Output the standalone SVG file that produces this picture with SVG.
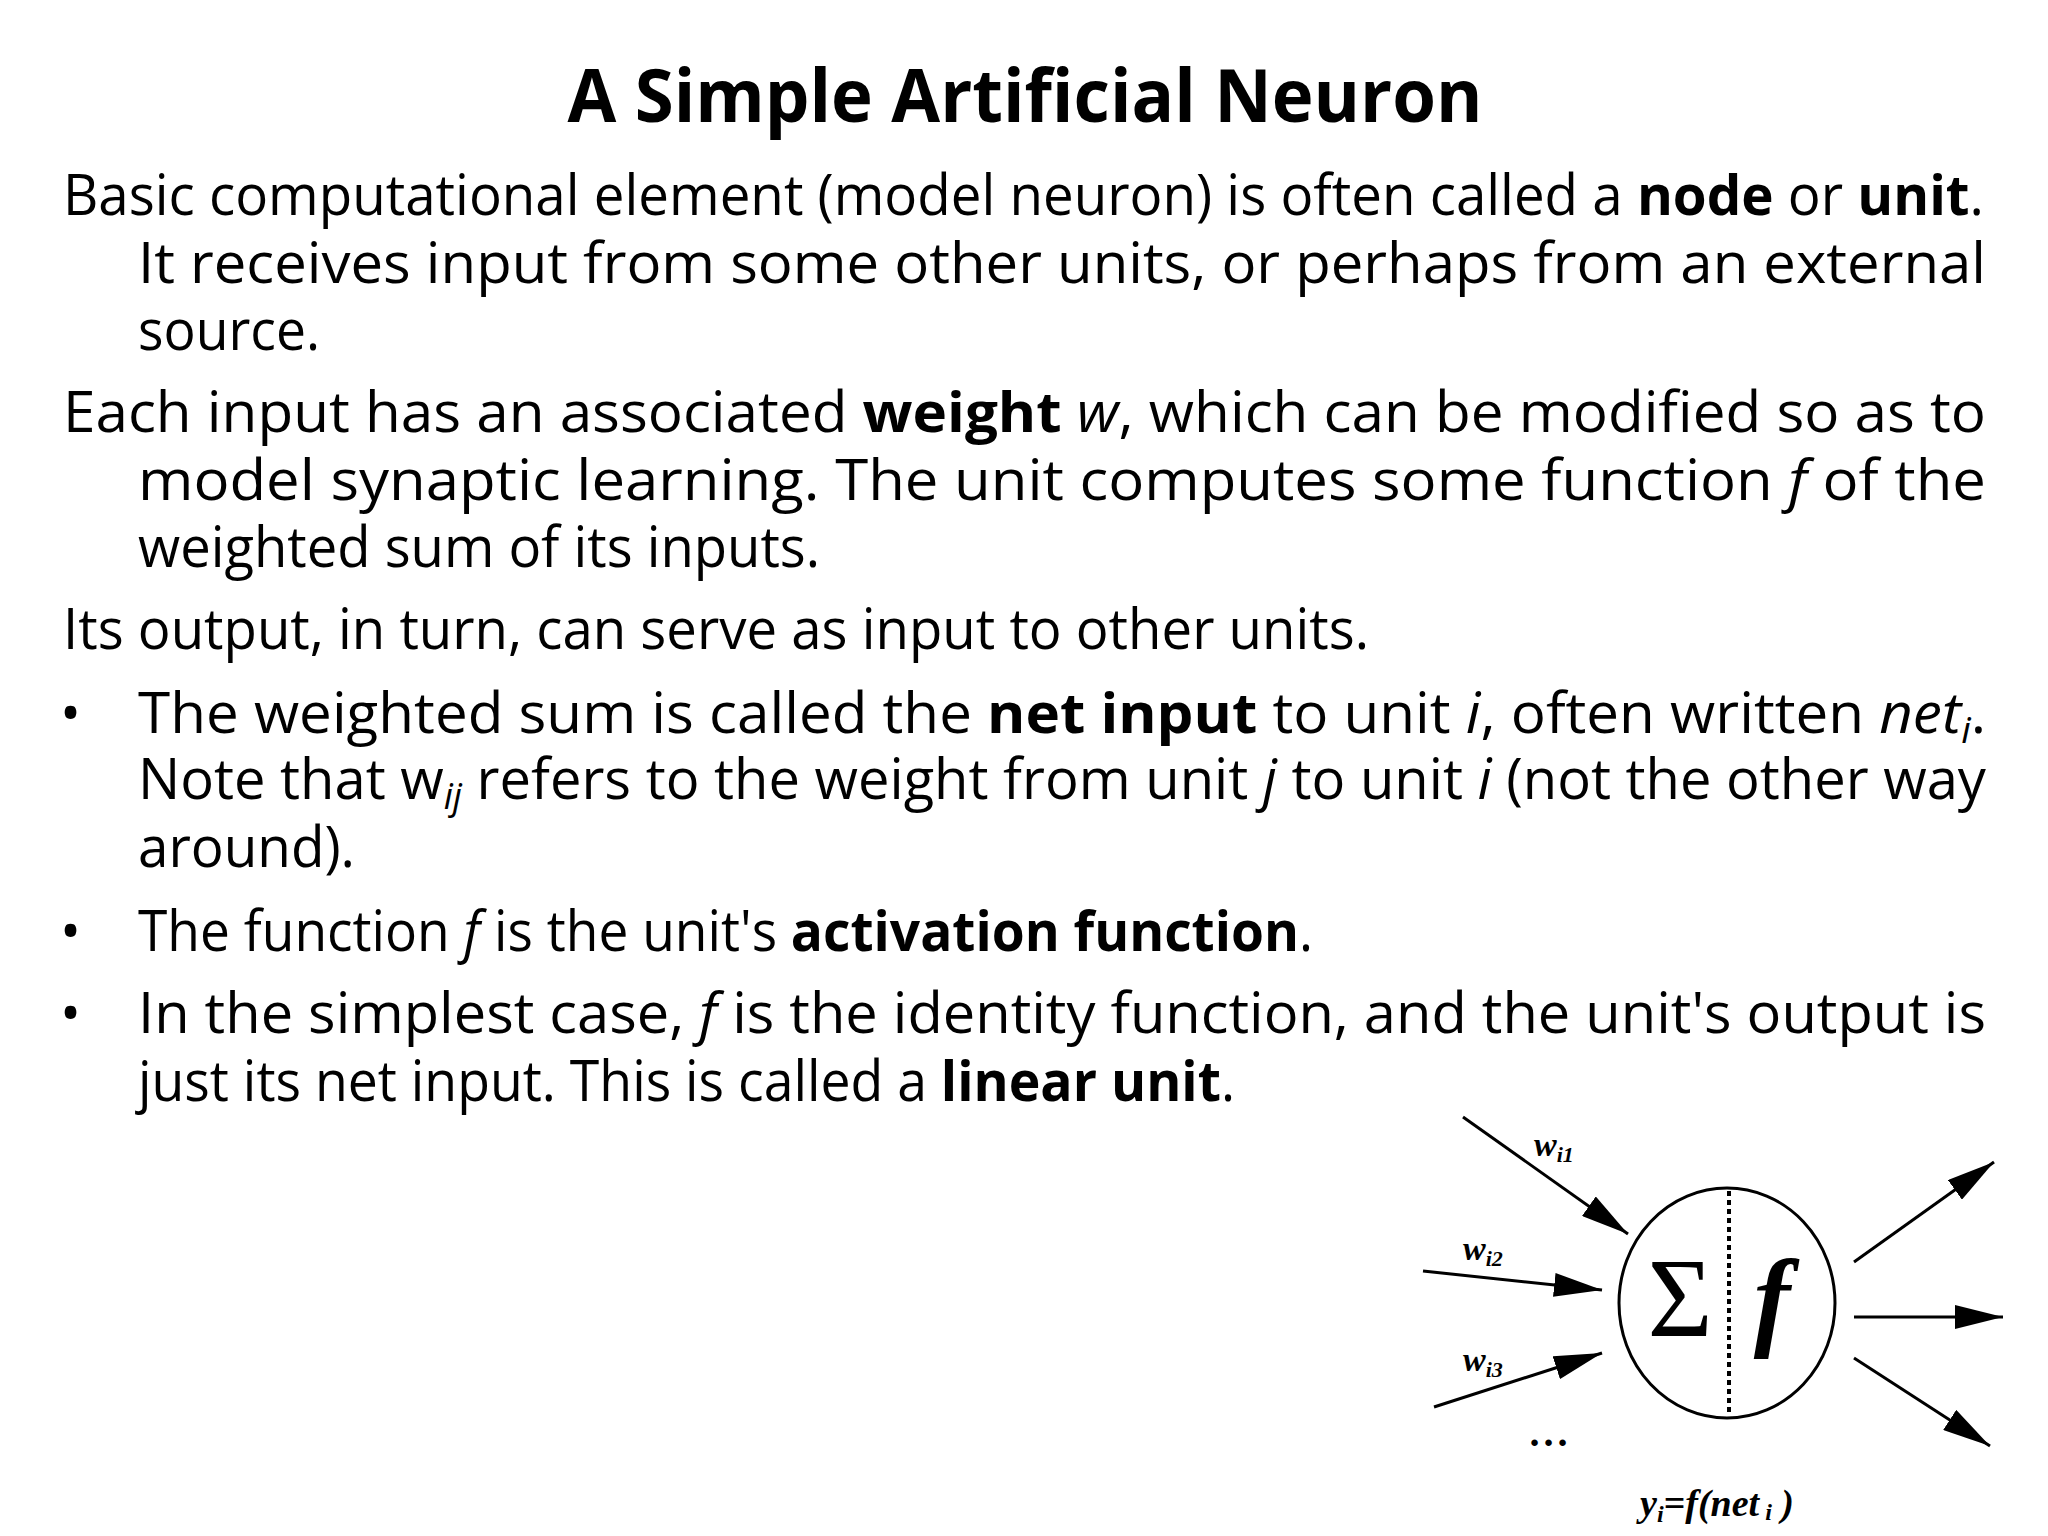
<svg xmlns="http://www.w3.org/2000/svg" width="2048" height="1536" viewBox="0 0 2048 1536">
<style>
.t{font-family:"Open Sans","Liberation Sans",sans-serif;font-size:56px;fill:#000}
.b{font-weight:bold}.i{font-style:italic}
.s{font-family:"Liberation Serif",serif;font-weight:bold;font-style:italic;fill:#000}
.ln{stroke:#000;stroke-width:3;fill:none}
</style>
<defs>
<marker id="a" viewBox="0 0 10 10" refX="10" refY="5" markerWidth="48" markerHeight="24" markerUnits="userSpaceOnUse" orient="auto" preserveAspectRatio="none"><path d="M0,0L10,5L0,10z" fill="#000"/></marker></defs>
<rect width="2048" height="1536" fill="#fff"/>
<text x="1025" y="122" text-anchor="middle" font-family="Open Sans,Liberation Sans,sans-serif" font-weight="bold" font-size="74" textLength="915" lengthAdjust="spacingAndGlyphs">A Simple Artificial Neuron</text>
<g class="t">
<text x="63" y="215" textLength="1921" lengthAdjust="spacingAndGlyphs">Basic computational element (model neuron) is often called a <tspan class="b">node</tspan> or <tspan class="b">unit</tspan>.</text>
<text x="138" y="283" textLength="1848" lengthAdjust="spacingAndGlyphs">It receives input from some other units, or perhaps from an external</text>
<text x="138" y="350" textLength="182" lengthAdjust="spacingAndGlyphs">source.</text>
<text x="63" y="432" textLength="1923" lengthAdjust="spacingAndGlyphs">Each input has an associated <tspan class="b">weight</tspan> <tspan class="i">w</tspan>, which can be modified so as to</text>
<text x="138" y="500" textLength="1848" lengthAdjust="spacingAndGlyphs">model synaptic learning. The unit computes some function <tspan class="i">f</tspan> of the</text>
<text x="138" y="567" textLength="682" lengthAdjust="spacingAndGlyphs">weighted sum of its inputs.</text>
<text x="63" y="649" textLength="1306" lengthAdjust="spacingAndGlyphs">Its output, in turn, can serve as input to other units.</text>
<text x="60" y="733">•</text>
<text x="138" y="733" textLength="1848" lengthAdjust="spacingAndGlyphs">The weighted sum is called the <tspan class="b">net input</tspan> to unit <tspan class="i">i</tspan>, often written <tspan class="i">net<tspan font-size="36" dy="10">i</tspan></tspan><tspan dy="-10">.</tspan></text>
<text x="138" y="799" textLength="1848" lengthAdjust="spacingAndGlyphs">Note that w<tspan font-size="36" dy="10" class="i">ij</tspan><tspan dy="-10"> refers to the weight from unit </tspan><tspan class="i">j</tspan> to unit <tspan class="i">i</tspan> (not the other way</text>
<text x="138" y="867" textLength="217" lengthAdjust="spacingAndGlyphs">around).</text>
<text x="60" y="951">•</text>
<text x="138" y="951" textLength="1175" lengthAdjust="spacingAndGlyphs">The function <tspan class="i">f</tspan> is the unit's <tspan class="b">activation function</tspan>.</text>
<text x="60" y="1033">•</text>
<text x="138" y="1033" textLength="1848" lengthAdjust="spacingAndGlyphs">In the simplest case, <tspan class="i">f</tspan> is the identity function, and the unit's output is</text>
<text x="138" y="1101" textLength="1097" lengthAdjust="spacingAndGlyphs">just its net input. This is called a <tspan class="b">linear unit</tspan>.</text>
</g>
<g id="neuron">
<ellipse cx="1727" cy="1303" rx="108" ry="115" class="ln"/>
<line x1="1729" y1="1191" x2="1729" y2="1413" stroke="#000" stroke-width="4" stroke-dasharray="5,4"/>
<text x="1680" y="1336" text-anchor="middle" font-family="Liberation Serif,serif" font-size="112">Σ</text>
<text x="1772" y="1336" text-anchor="middle" class="s" font-size="110">f</text>
</g>
<g id="connectors" class="ln">
<line x1="1463" y1="1117" x2="1628" y2="1234" marker-end="url(#a)"/>
<line x1="1423" y1="1271" x2="1602" y2="1290" marker-end="url(#a)"/>
<line x1="1434" y1="1407" x2="1602" y2="1353" marker-end="url(#a)"/>
<line x1="1854" y1="1262" x2="1994" y2="1162" marker-end="url(#a)"/>
<line x1="1854" y1="1317" x2="2003" y2="1317" marker-end="url(#a)"/>
<line x1="1854" y1="1358" x2="1990" y2="1446" marker-end="url(#a)"/>
</g>
<g id="labels">
<text x="1534" y="1156" class="s" font-size="34">w<tspan font-size="22" dy="6">i1</tspan></text>
<text x="1463" y="1260" class="s" font-size="34">w<tspan font-size="22" dy="6">i2</tspan></text>
<text x="1463" y="1371" class="s" font-size="34">w<tspan font-size="22" dy="6">i3</tspan></text>
<text x="1552" y="1446" text-anchor="middle" class="s" font-size="40" letter-spacing="4">...</text>
<text x="1717" y="1516" text-anchor="middle" class="s" font-size="38">y<tspan font-size="24" dy="6">i</tspan><tspan dy="-6">=</tspan>f(net<tspan font-size="24" dy="4"> i</tspan><tspan dy="-4"> )</tspan></text>
</g>
</svg>
